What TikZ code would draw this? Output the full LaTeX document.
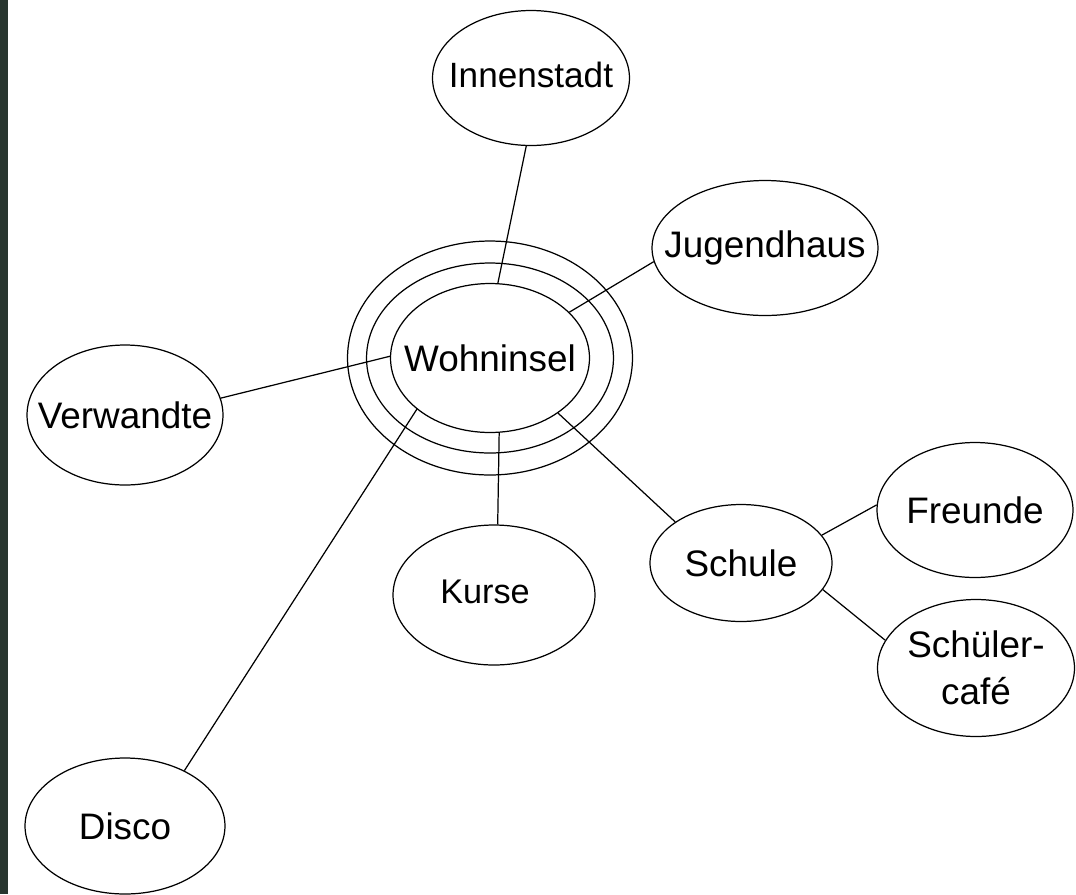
\documentclass[tikz,border=0pt]{standalone}
\usepackage{fontspec}
\setmainfont{Liberation Sans}
\usepackage{tikz}
\usetikzlibrary{shapes}
\definecolor{scanstrip}{RGB}{40,54,47}

\begin{document}
\begin{tikzpicture}
[   x=0.02cm, y=-0.02cm,
    bubble/.style 2 args={draw=black, ellipse, line width=0.7pt, inner sep=0pt, minimum width=#1, minimum height=#2, font=\fontsize{21}{25}\selectfont},
    link/.style={draw=black, line width=0.7pt},
]
    \useasboundingbox (0,0) rectangle (1076,894);
    \fill[scanstrip] (0,0) rectangle (8,894);

    \node[bubble={3.94cm}{2.70cm}] (inn) at (531,78) {\makebox[0pt]{\raisebox{0.12cm}{\fontsize{20}{24}\selectfont Innenstadt}}};
    \node[bubble={4.52cm}{2.70cm}] (jug) at (765,248) {\makebox[0pt]{Jugendhaus}};
    \node[bubble={3.92cm}{2.80cm}] (ver) at (125,415) {\makebox[0pt]{Verwandte}};
    \node[bubble={4.04cm}{2.80cm}] (kur) at (494,595) {\makebox[0pt]{\raisebox{0.12cm}{\fontsize{19.5}{23}\selectfont Kurse}\hspace*{0.36cm}}};
    \node[bubble={3.64cm}{2.34cm}] (sch) at (741,563) {\makebox[0pt]{Schule}};
    \node[bubble={3.92cm}{2.70cm}] (fre) at (975,510) {\makebox[0pt]{Freunde}};
    \node[bubble={3.94cm}{2.74cm}, align=center] (caf) at (976,668) {\makebox[0pt]{\raisebox{-0.12cm}{Schüler-}}\\[2pt]\makebox[0pt]{\raisebox{-0.12cm}{café}}};
    \node[bubble={4.00cm}{2.72cm}] (dis) at (125,826) {\makebox[0pt]{Disco}};

    % the three rings
    \node[bubble={5.70cm}{4.68cm}] (wohout) at (490,358) {};
    \node[bubble={4.94cm}{3.80cm}] (wohmid) at (490,358) {};
    \node[bubble={3.98cm}{2.98cm}] (woh) at (490,358) {\makebox[0pt]{Wohninsel}};

    \foreach \a/\b in {inn.266/woh.84, jug.187/woh.30, ver.10/woh.179, dis.43/woh.215, kur.87/woh.277, sch.148/woh.321, sch.19/fre.177, sch.342/caf.163}
    {   \draw[link] (\a) -- (\b);
    }

\end{tikzpicture}
\end{document}
